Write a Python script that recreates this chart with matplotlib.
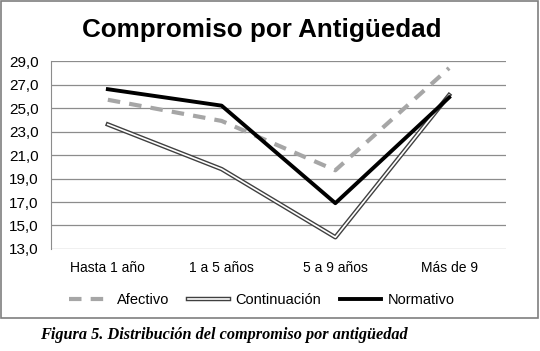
import matplotlib
matplotlib.use("Agg")
import matplotlib.pyplot as plt
import matplotlib.patheffects as pe
from matplotlib.patches import Rectangle
from matplotlib.ticker import FuncFormatter

categories = ["Hasta 1 año", "1 a 5 años", "5 a 9 años", "Más de 9"]
afectivo = [25.7, 23.9, 19.7, 28.4]
continuacion = [23.6, 19.8, 14.0, 26.1]
normativo = [26.6, 25.2, 16.9, 25.9]

plt.rcParams["font.family"] = ["Liberation Sans", "DejaVu Sans"]

fig = plt.figure(figsize=(5.4, 3.51), dpi=100)
ax = fig.add_axes([0.0944, 0.2906, 0.8426, 0.5356])

x = range(len(categories))
ax.plot(x, afectivo, color="#a6a6a6", lw=3, dashes=(3, 2.2), label="Afectivo")
ax.plot(x, continuacion, color="white", lw=1.2, label="Continuación",
        path_effects=[pe.Stroke(linewidth=3.2, foreground="#404040"), pe.Normal()])
ax.plot(x, normativo, color="black", lw=2.8, label="Normativo")

ax.set_xlim(-0.5, 3.5)
ax.set_ylim(13, 29)
ax.set_yticks(range(13, 30, 2))
ax.yaxis.set_major_formatter(FuncFormatter(lambda v, p: f"{v:.1f}".replace(".", ",")))
ax.set_xticks(list(x))
ax.set_xticklabels(categories)
ax.tick_params(length=0, labelsize=10, colors="black")
ax.tick_params(axis="x", pad=9)
ax.tick_params(axis="y", pad=9, labelsize=11)
ax.grid(axis="y", color="#8c8c8c", lw=0.9)
ax.set_axisbelow(True)
for s in ["top", "right", "bottom"]:
    ax.spines[s].set_visible(False)
ax.spines["left"].set_color("#8c8c8c")

fig.text(0.485, 0.915, "Compromiso por Antigüedad", ha="center", va="center",
         fontsize=18.7, fontweight="bold")

ax.legend(loc="center", bbox_to_anchor=(0.464, -0.27), ncol=3, frameon=False,
          fontsize=10.5, handlelength=2.8, handletextpad=0.45, columnspacing=1.3)

fig.patches.append(Rectangle((0.002, 0.094), 0.994, 0.902, transform=fig.transFigure,
                             fill=False, edgecolor="#7f7f7f", lw=1.2))

fig.text(0.074, 0.045, "Figura 5. Distribución del compromiso por antigüedad",
         ha="left", va="center", fontsize=11.7, fontweight="bold", fontstyle="italic",
         family=["Liberation Serif", "DejaVu Serif"])

fig.savefig("out.png", dpi=100)
